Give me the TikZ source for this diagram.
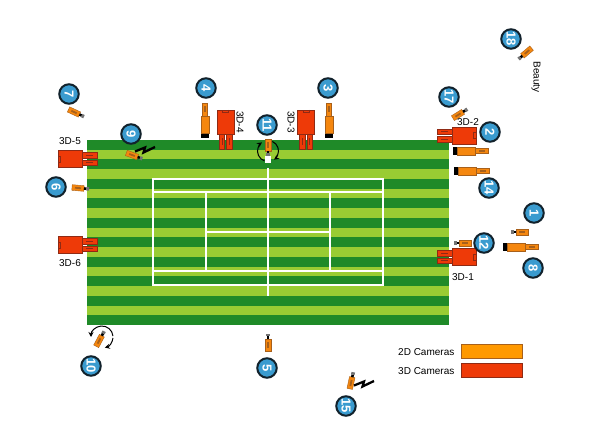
\documentclass[tikz,border=0pt]{standalone}
\usepackage{fontspec}
\setmainfont{Liberation Sans}
\usetikzlibrary{arrows.meta}
\definecolor{darkgr}{HTML}{1F8A28}
\definecolor{lightgr}{HTML}{99CC33}
\definecolor{camor}{HTML}{F5870F}
\definecolor{camorb}{HTML}{A8601A}
\definecolor{camred}{HTML}{EE3A08}
\definecolor{camredb}{HTML}{8F2A14}
\definecolor{legor}{HTML}{FF9900}
\definecolor{badge}{HTML}{3A9BCF}
\definecolor{ink}{HTML}{12222C}
\tikzset{
  x=1pt,y=-1pt,
  every node/.style={font=\fontsize{10}{12}\selectfont,text=black,inner sep=0pt},
  badgeb/.style={circle,draw=ink,line width=2pt,fill=badge,minimum size=19.5pt,text=white,
    font=\fontsize{13}{13}\bfseries\selectfont,rotate=-90},
  court/.style={white,line width=2pt},
  orbox/.style={fill=camor,draw=camorb,line width=.4pt},
  redbox/.style={fill=camred,draw=camredb,line width=.5pt},
  turn/.style={black,line width=1pt,-{Stealth[length=5pt,width=5pt]}},
  smallcam/.pic={
    \draw[orbox] (-6,-2.8) rectangle (6,2.8);
    \fill[camorb] (-3,-.9) rectangle (3,.9);
    \fill[black] (6,-1.3) rectangle (8.5,1.3);
    \fill[black!55] (8.5,-1.8) rectangle (11,1.8);
  },
  bigcam/.pic={
    \fill[black] (0,-4) rectangle (4.5,4);
    \draw[orbox] (4.5,-4) rectangle (22,4);
    \draw[orbox] (22,-2.6) rectangle (35,2.6);
    \fill[camorb] (26,-.7) rectangle (32,.7);
  },
  threedcam/.pic={
    \draw[redbox] (24,-6.3) rectangle (39,-1);
    \draw[redbox] (24,1) rectangle (39,6.3);
    \fill[camredb] (28,-4) rectangle (35,-3.2);
    \fill[camredb] (28,3.2) rectangle (35,4);
    \draw[redbox] (0,-8.5) rectangle (24,8.5);
    \draw[camredb,line width=.4pt] (0,-3) -- (2.5,-3) -- (2.5,3) -- (0,3);
  },
  boltshape/.pic={
    \draw[black,line width=2.3pt,miter limit=3] (-10,1.5) -- (0,-2.5) -- (-1.5,2.5) -- (10,-3);
  }
}
\begin{document}
\begin{tikzpicture}
\useasboundingbox (0,0) rectangle (595,446);
\fill[white] (0,0) rectangle (595,446);
% field
\fill[lightgr] (87,140) rectangle (449,325);
\foreach \i in {0,2,...,18}{
  \fill[darkgr] (87,{140+9.737*\i}) rectangle (449,{140+9.737*(\i+1)});
}
% court
\draw[court] (153,179.5) rectangle (383,285);
\draw[court] (153,192.5) -- (383,192.5);
\draw[court] (153,271.5) -- (383,271.5);
\draw[court] (206,192.5) -- (206,271.5);
\draw[court] (330,192.5) -- (330,271.5);
\draw[court] (206,232) -- (330,232);
\draw[court] (268,168) -- (268,296);
% 3D cameras
\pic[rotate=180] at (476,135.5) {threedcam};
\pic[rotate=180] at (476,257) {threedcam};
\pic at (58,159) {threedcam};
\pic at (58,245) {threedcam};
\pic[rotate=-90] at (225.5,110) {threedcam};
\pic[rotate=-90] at (306,110) {threedcam};
% big 2D cameras
\pic at (453,151) {bigcam};
\pic at (454,171) {bigcam};
\pic at (503,247) {bigcam};
\pic[rotate=90] at (205,138) {bigcam};
\pic[rotate=90] at (329,138) {bigcam};
% small 2D cameras
\pic[rotate=-25] at (74,112) {smallcam};
\pic[rotate=-20] at (132,155) {smallcam};
\pic[rotate=-5] at (78,188) {smallcam};
\pic[rotate=220] at (527,52) {smallcam};
\pic[rotate=32] at (458,115) {smallcam};
\pic[rotate=180] at (522,232) {smallcam};
\pic[rotate=180] at (465,243) {smallcam};
\fill[white] (265,156) rectangle (271,163);
\pic[rotate=-90] at (268,145) {smallcam};
\pic[rotate=62] at (99,341) {smallcam};
\pic[rotate=90] at (268,345) {smallcam};
\pic[rotate=78] at (351,383) {smallcam};
% bolts
\pic at (145,150) {boltshape};
\pic at (364,384) {boltshape};
% rotation arrows
\coordinate (spinA) at (268,151);
\coordinate (spinB) at (102,337);
\draw[turn] (spinA) ++(250:10.5pt) arc[start angle=250,end angle=125,radius=10.5pt];
\draw[turn] (spinA) ++(65:10.5pt) arc[start angle=65,end angle=-55,radius=10.5pt];
\draw[turn] (spinB) ++(5:11pt) arc[start angle=5,end angle=180,radius=11pt];
\draw[turn] (spinB) ++(-5:11pt) arc[start angle=-5,end angle=-75,radius=11pt];
% badges
\node[badgeb] (b1) at (534,213) {1};
\node[badgeb] (b2) at (490,132) {2};
\node[badgeb] (b3) at (328,88) {3};
\node[badgeb] (b4) at (206,88) {4};
\node[badgeb] (b5) at (267,368) {5};
\node[badgeb] (b6) at (56,187) {6};
\node[badgeb] (b7) at (69,94) {7};
\node[badgeb] (b8) at (533,268) {8};
\node[badgeb] (b9) at (131,134) {9};
\node[badgeb] (b10) at (91,366) {10};
\node[badgeb] (b11) at (267,125) {11};
\node[badgeb] (b12) at (484,243) {12};
\node[badgeb] (b14) at (489,188) {14};
\node[badgeb] (b15) at (346,406) {15};
\node[badgeb] (b17) at (449,97) {17};
\node[badgeb] (b18) at (511,39) {18};
% labels
\node (l5) at (70,141) {3D-5};
\node (l6) at (70,263) {3D-6};
\node (l1) at (463,277) {3D-1};
\node (l2) at (468,122) {3D-2};
\node[rotate=-90] (l4) at (240,122) {3D-4};
\node[rotate=-90] (l3) at (291,122) {3D-3};
\node[rotate=-90] (lb) at (536,77) {Beauty};
% legend
\node[anchor=west] (t2d) at (398,352) {2D Cameras};
\node[anchor=west] (t3d) at (398,371) {3D Cameras};
\draw[fill=legor,draw=camorb,line width=.6pt] (461,344.5) rectangle (522,358.5);
\draw[redbox,line width=.6pt] (461,363.5) rectangle (522,377.5);
\end{tikzpicture}
\end{document}
